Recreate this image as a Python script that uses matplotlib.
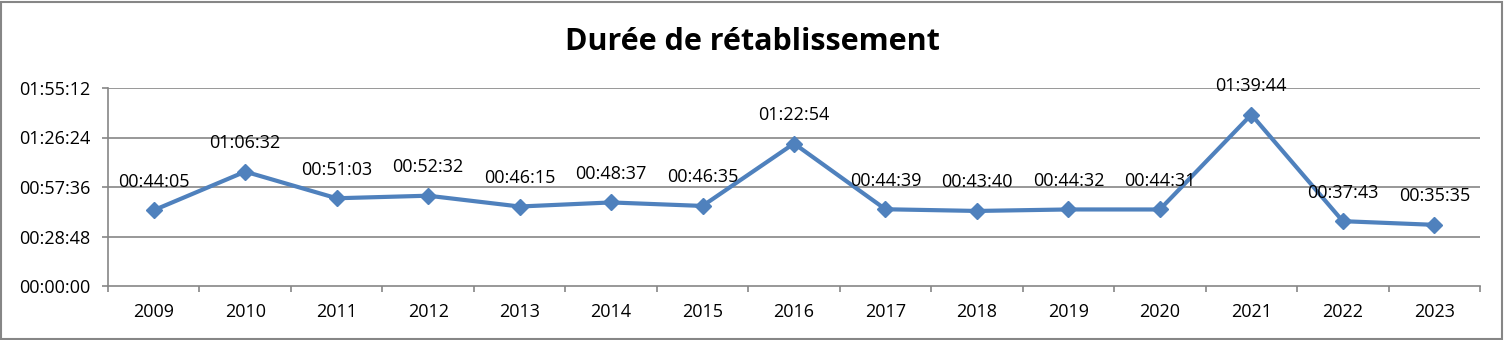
import matplotlib
matplotlib.use("Agg")
import matplotlib.pyplot as plt
from matplotlib.patches import Rectangle

years = ["2009", "2010", "2011", "2012", "2013", "2014", "2015", "2016",
         "2017", "2018", "2019", "2020", "2021", "2022", "2023"]
durations = ["00:44:05", "01:06:32", "00:51:03", "00:52:32", "00:46:15", "00:48:37",
             "00:46:35", "01:22:54", "00:44:39", "00:43:40", "00:44:32", "00:44:31",
             "01:39:44", "00:37:43", "00:35:35"]
ytick_labels = ["00:00:00", "00:28:48", "00:57:36", "01:26:24", "01:55:12"]


def to_sec(s):
    h, m, sec = (int(p) for p in s.split(":"))
    return h * 3600 + m * 60 + sec


values = [to_sec(d) for d in durations]
yticks = [to_sec(t) for t in ytick_labels]

font = "Open Sans"
fs = 13
W, H = 1504, 340
fig = plt.figure(figsize=(W / 100, H / 100), dpi=100)
fig.patches.append(Rectangle((1 / W, 1 / H), 1 - 3 / W, 1 - 3 / H, transform=fig.transFigure,
                             fill=False, edgecolor="#868686", linewidth=1.5, zorder=0))

left, right, top, bottom = 108, 1480, 88, 286
ax = fig.add_axes([left / W, 1 - bottom / H, (right - left) / W, (bottom - top) / H])

x = list(range(len(years)))
ax.plot(x, values, color="#4F81BD", linewidth=3.0, marker="D", markersize=8.5,
        markeredgecolor="#4F81BD", markerfacecolor="#4F81BD", zorder=3, clip_on=False)

for xi, v, lab in zip(x, values, durations):
    ax.annotate(lab, (xi, v), xytext=(0, 20.5), textcoords="offset points",
                ha="center", va="center", fontsize=fs, family=font, color="black", zorder=4)

ax.set_xlim(-0.5, len(years) - 0.5)
ax.set_ylim(yticks[0], yticks[-1])
ax.set_yticks(yticks)
ax.set_yticklabels(ytick_labels, family=font, fontsize=fs)
for t in yticks[1:]:
    ax.axhline(t, color="#868686", linewidth=1.2, zorder=1)

ax.set_xticks(x)
ax.set_xticklabels(years, family=font, fontsize=fs)
ax.tick_params(axis="x", length=0, pad=12)
ax.set_xticks([i - 0.5 for i in range(len(years) + 1)], minor=True)
ax.tick_params(axis="x", which="minor", length=4.5, color="#868686", width=1.2)
ax.tick_params(axis="y", length=4.5, color="#868686", width=1.2, pad=8)

for s in ["top", "right"]:
    ax.spines[s].set_visible(False)
for s in ["left", "bottom"]:
    ax.spines[s].set_color("#868686")
    ax.spines[s].set_linewidth(1.2)

fig.text(0.5, 1 - 42 / H, "Durée de rétablissement", ha="center", va="center",
         fontsize=22, fontweight="bold", family=font)

fig.savefig("out.png", dpi=100)
